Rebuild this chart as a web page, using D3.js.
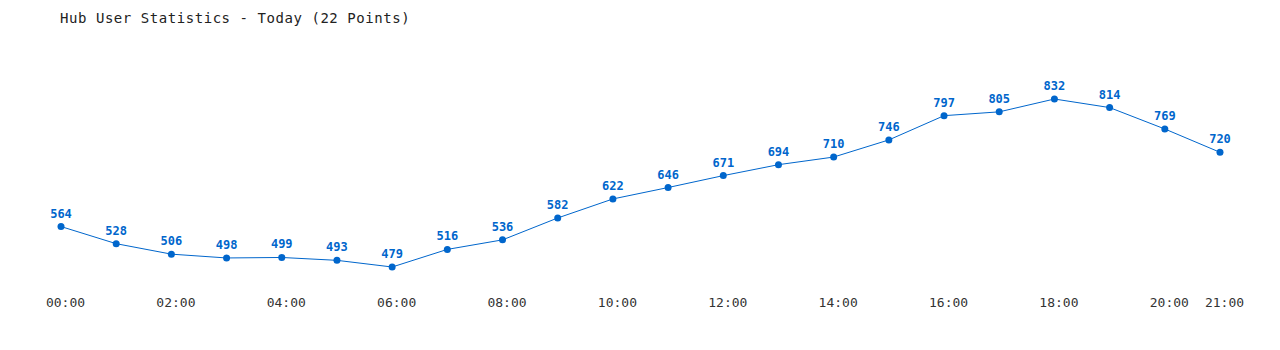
<!DOCTYPE html>
<html><head><meta charset="utf-8">
<script src="https://cdn.jsdelivr.net/npm/d3@7"></script>
<style>
html,body{margin:0;padding:0;background:#fff;}
svg{display:block;}
text{font-family:"DejaVu Sans Mono","Liberation Mono",monospace;}
</style></head>
<body><svg id="c" width="1280" height="350"></svg>
<script>
const hours = ["00:00","01:00","02:00","03:00","04:00","05:00","06:00","07:00","08:00","09:00","10:00","11:00","12:00","13:00","14:00","15:00","16:00","17:00","18:00","19:00","20:00","21:00"];
const users = [564,528,506,498,499,493,479,516,536,582,622,646,671,694,710,746,797,805,832,814,769,720];
const tickLabels = ["00:00","02:00","04:00","06:00","08:00","10:00","12:00","14:00","16:00","18:00","20:00","21:00"];
const title = "Hub User Statistics - Today (22 Points)";

const svg = d3.select("#c");
const color = "#0066cc";
const x = d3.scalePoint().domain(hours).range([61, 1220]);
const y = d3.scaleLinear().domain([479, 832]).range([267, 99]);

svg.append("text").attr("x", 60).attr("y", 23).attr("font-size", 14)
  .attr("letter-spacing", "0.55px").attr("fill", "#222").text(title);

const xAxis = d3.axisBottom(x).tickValues(tickLabels).tickSize(0).tickPadding(0);
const ax = svg.append("g").attr("transform", "translate(4,307)").call(xAxis);
ax.select(".domain").remove();
ax.selectAll("text").attr("font-size", 13).attr("fill", "#333").attr("dy", null).attr("y", 0)
  .style("font-family", '"DejaVu Sans Mono","Liberation Mono",monospace');

const data = hours.map((h, i) => ({h, v: users[i]}));
svg.append("path").datum(data)
  .attr("fill", "none").attr("stroke", color).attr("stroke-width", 1)
  .attr("d", d3.line().x(d => x(d.h)).y(d => y(d.v)));

svg.selectAll("circle.pt").data(data).join("circle")
  .attr("cx", d => x(d.h)).attr("cy", d => y(d.v)).attr("r", 3.5).attr("fill", color);

svg.selectAll("text.lbl").data(data).join("text").attr("class", "lbl")
  .attr("x", d => x(d.h)).attr("y", d => y(d.v) - 9)
  .attr("text-anchor", "middle").attr("font-size", 12).attr("font-weight", "bold")
  .attr("fill", color).text(d => d.v);
</script></body></html>
